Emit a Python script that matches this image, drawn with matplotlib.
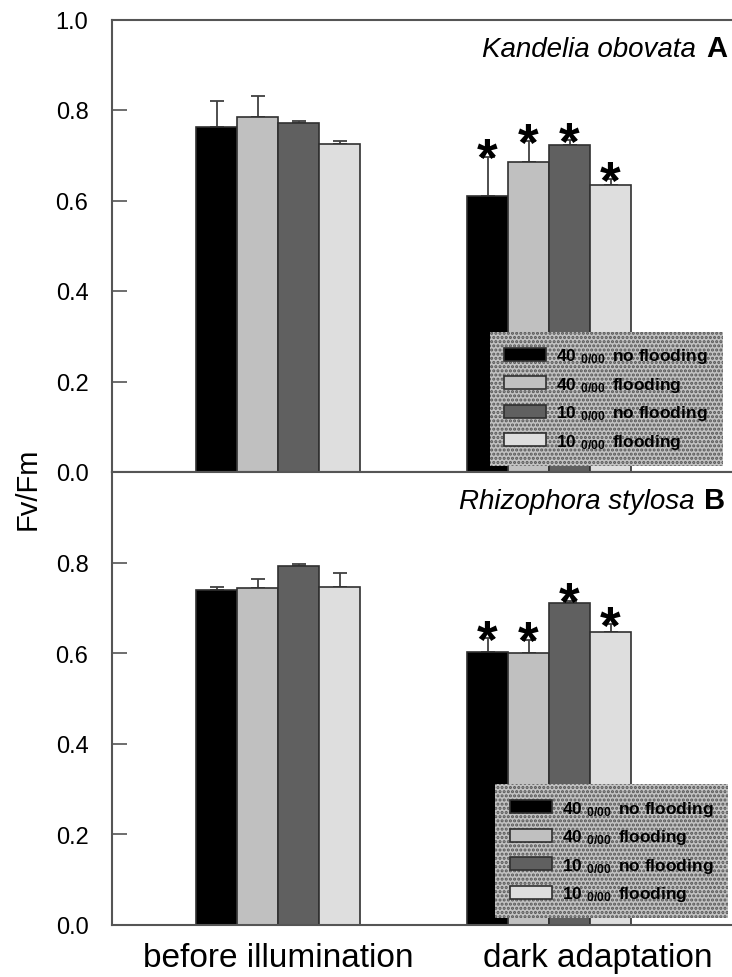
import matplotlib
matplotlib.use("Agg")
import matplotlib.pyplot as plt
import numpy as np

plt.rcParams['font.family'] = ['Liberation Sans', 'DejaVu Sans']
plt.rcParams['mathtext.fontset'] = 'custom'
plt.rcParams['mathtext.rm'] = 'Liberation Sans:bold'
plt.rcParams['mathtext.bf'] = 'Liberation Sans:bold'
plt.rcParams['mathtext.default'] = 'bf'
plt.rcParams['hatch.color'] = '#555555'
plt.rcParams['hatch.linewidth'] = 1.5

# ---------------- data ----------------
groups = ['before illumination', 'dark adaptation']
treatments = [r'40 $_{0/00}\,$ no flooding', r'40 $_{0/00}\,$ flooding',
              r'10 $_{0/00}\,$ no flooding', r'10 $_{0/00}\,$ flooding']
colors = ['#000000', '#c0c0c0', '#606060', '#dedede']

# Kandelia obovata (panel A): rows = treatments, cols = groups
ka_mean = [[0.762, 0.611], [0.784, 0.686], [0.771, 0.723], [0.725, 0.634]]
ka_err = [[0.058, 0.086], [0.048, 0.045], [0.004, 0.010], [0.006, 0.013]]
ka_sig = [[False, True], [False, True], [False, True], [False, True]]

# Rhizophora stylosa (panel B)
rs_mean = [[0.739, 0.603], [0.743, 0.600], [0.792, 0.710], [0.746, 0.646]]
rs_err = [[0.008, 0.031], [0.020, 0.030], [0.005, 0.006], [0.030, 0.018]]
rs_sig = [[False, True], [False, True], [False, True], [False, True]]

species = ['Kandelia obovata', 'Rhizophora stylosa']
letters = ['A', 'B']
ylabel = 'Fv/Fm'
yticks_top = [0.0, 0.2, 0.4, 0.6, 0.8, 1.0]
yticks_bottom = [0.0, 0.2, 0.4, 0.6, 0.8]

# ---------------- layout ----------------
W, H = 732, 978
fig = plt.figure(figsize=(W / 100, H / 100), dpi=100)
left = 112 / W
width = 1.0 - left
ax1 = fig.add_axes([left, (H - 473) / H, width, 452.5 / H])
ax2 = fig.add_axes([left, (H - 926) / H, width, 453 / H])

bar_w = 41 / 271
group_x = np.arange(len(groups))
offsets = (np.arange(4) - 1.5) * bar_w
spine_col = '#555555'

legend_pos = [(0.985, 0.014), (0.994, 0.015)]
title_pos = [(0.992, 0.919), (0.989, 0.9205)]

for k, (ax, mean, err, sig) in enumerate(zip([ax1, ax2], [ka_mean, rs_mean],
                                             [ka_err, rs_err], [ka_sig, rs_sig])):
    handles = []
    for i in range(4):
        xs = group_x + offsets[i]
        b = ax.bar(xs, mean[i], width=bar_w, color=colors[i],
                   edgecolor='#303030', linewidth=1.2, zorder=2,
                   label=treatments[i])
        handles.append(b)
        ax.errorbar(xs, mean[i], yerr=[np.zeros(len(xs)), err[i]], fmt='none',
                    ecolor='#404040', elinewidth=1.3, capsize=4.7,
                    capthick=1.3, zorder=1)
        for j, s in enumerate(sig[i]):
            if s:
                ax.annotate('*', xy=(xs[j], mean[i][j] + err[i][j]),
                            xytext=(0, -13.5), textcoords='offset points',
                            ha='center', va='baseline', fontsize=38,
                            fontweight='bold', zorder=3)
    ax.set_xlim(-0.6125, 1.675)
    ax.set_ylim(0, 1.0)
    for sp in ['left', 'bottom', 'top']:
        ax.spines[sp].set_color(spine_col)
        ax.spines[sp].set_linewidth(1.5)
    ax.spines['right'].set_visible(False)
    ax.tick_params(axis='y', direction='in', length=11, width=1.2,
                   color=spine_col, labelsize=17, pad=17)
    ax.tick_params(axis='x', length=0)

    leg = ax.legend(handles=handles, loc='lower right',
                    bbox_to_anchor=legend_pos[k], borderaxespad=0,
                    prop={'weight': 'bold', 'size': 12.5},
                    handlelength=2.4, handleheight=0.75, handletextpad=0.6,
                    labelspacing=0.55, borderpad=0.85, fancybox=False,
                    framealpha=1)
    fr = leg.get_frame()
    fr.set_facecolor('#c2c2c2')
    fr.set_edgecolor('#555555')
    fr.set_linewidth(0)
    fr.set_hatch('....')

    lt = ax.text(title_pos[k][0], title_pos[k][1], letters[k],
                 transform=ax.transAxes, ha='right', va='baseline',
                 fontsize=21, fontweight='bold')
    ax.annotate(species[k], xy=(0, 0), xycoords=lt, xytext=(-7, 0),
                textcoords='offset points', ha='right', va='bottom',
                fontsize=20, fontstyle='italic')

ax1.set_yticks(yticks_top)
ax1.set_yticklabels([f'{v:.1f}' for v in yticks_top])
ax1.set_xticks([])
ax2.set_yticks(yticks_bottom)
ax2.set_yticklabels([f'{v:.1f}' for v in yticks_bottom])
ax2.set_xticks([group_x[0], group_x[1] + 0.18])
ax2.set_xticklabels(groups, fontsize=24)
ax2.tick_params(axis='x', pad=12)

fig.text(28 / W, 0.5, ylabel, rotation=90, ha='center', va='center',
         fontsize=21)

fig.savefig('out.png', dpi=100)
